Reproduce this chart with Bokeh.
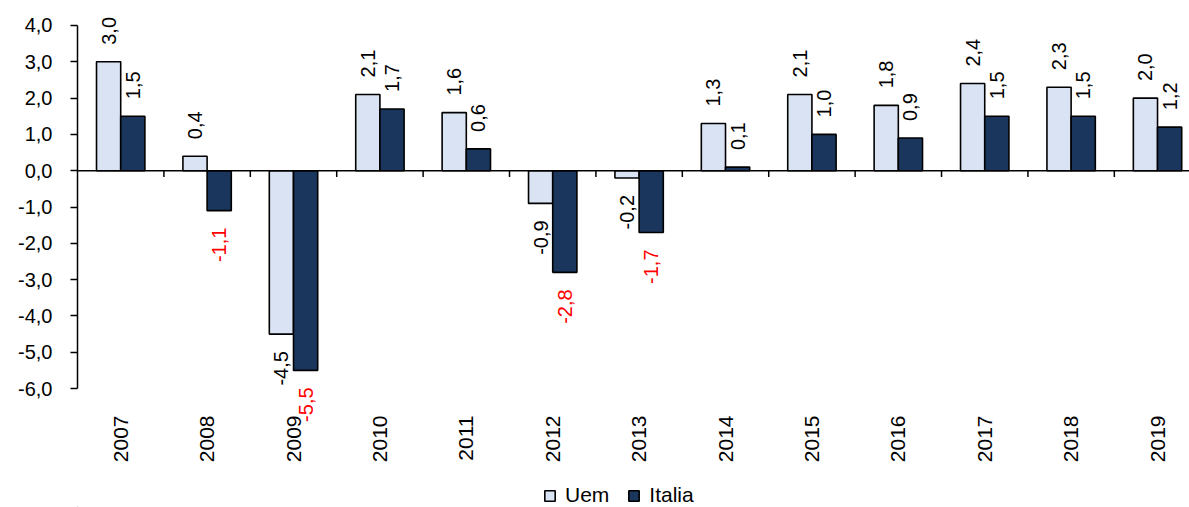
import math
from bokeh.plotting import figure
from bokeh.layouts import column
from bokeh.core.properties import value
from bokeh.models import (Range1d, FixedTicker, CustomJSTickFormatter, ColumnDataSource,
                          LabelSet, Span, Legend, LegendItem)
from bokeh.embed import file_html
from bokeh.resources import INLINE
from bokeh.transform import dodge

years = ["2007", "2008", "2009", "2010", "2011", "2012", "2013",
         "2014", "2015", "2016", "2017", "2018", "2019"]
uem = [3.0, 0.4, -4.5, 2.1, 1.6, -0.9, -0.2, 1.3, 2.1, 1.8, 2.4, 2.3, 2.0]
italia = [1.5, -1.1, -5.5, 1.7, 0.6, -2.8, -1.7, 0.1, 1.0, 0.9, 1.5, 1.5, 1.2]
y_ticks = [-6, -5, -4, -3, -2, -1, 0, 1, 2, 3, 4]
series_names = ["Uem", "Italia"]

UEM_COLOR = "#dae3f3"
ITA_COLOR = "#1b365d"
FONT = "Liberation Sans"

pos = [i + 0.5 for i in range(len(years))]
fmt = lambda v: f"{v:.1f}".replace(".", ",")

src = ColumnDataSource(dict(x=pos, uem=uem, italia=italia, year=years))

p = figure(width=1189, height=465, output_backend="svg", toolbar_location=None,
           x_range=Range1d(0, 12.87), y_range=Range1d(-7.1, 4.55),
           min_border_left=77, min_border_right=0, min_border_top=5, min_border_bottom=0)
p.outline_line_color = None
p.xgrid.visible = False
p.ygrid.visible = False
p.background_fill_color = "white"
p.border_fill_color = "white"

BW = 0.28
r1 = p.vbar(x=dodge("x", -BW / 2), top="uem", bottom=0, width=BW, source=src,
            fill_color=UEM_COLOR, line_color="black", line_width=1.6)
r2 = p.vbar(x=dodge("x", BW / 2), top="italia", bottom=0, width=BW, source=src,
            fill_color=ITA_COLOR, line_color="black", line_width=1.6)

# zero line + boundary ticks
p.add_layout(Span(location=0, dimension="width", line_color="black", line_width=1.5))
bx = [float(i) for i in range(1, len(years))]
p.segment(x0=bx, y0=[0] * len(bx), x1=bx, y1=[-0.17] * len(bx), line_color="black", line_width=1.5)

# value labels
def add_labels(vals, off, neg_color):
    pv = [(x + off, v) for x, v in zip(pos, vals) if v >= 0]
    nv = [(x + off, v) for x, v in zip(pos, vals) if v < 0]
    if pv:
        s = ColumnDataSource(dict(x=[a for a, _ in pv], y=[b for _, b in pv], t=[fmt(b) for _, b in pv]))
        p.add_layout(LabelSet(x="x", y="y", text="t", source=s, angle=math.pi / 2,
                              text_align="left", text_baseline="middle", y_offset=17,
                              text_font=value(FONT), text_font_size="20px", text_color="black"))
    if nv:
        s = ColumnDataSource(dict(x=[a for a, _ in nv], y=[b for _, b in nv], t=[fmt(b) for _, b in nv]))
        p.add_layout(LabelSet(x="x", y="y", text="t", source=s, angle=math.pi / 2,
                              text_align="right", text_baseline="middle", y_offset=-17,
                              text_font=value(FONT), text_font_size="20px", text_color=neg_color))

add_labels(uem, -BW / 2, "black")
add_labels(italia, BW / 2, "#ff0000")

# y axis
ya = p.yaxis[0]
ya.ticker = FixedTicker(ticks=y_ticks)
ya.formatter = CustomJSTickFormatter(code="return tick.toFixed(1).replace('.', ',');")
ya.bounds = (-6, 4)
ya.axis_line_color = "black"
ya.axis_line_width = 1.5
ya.major_tick_line_color = "black"
ya.major_tick_line_width = 1.5
ya.major_tick_out = 7
ya.major_tick_in = 0
ya.minor_tick_line_color = None
ya.major_label_standoff = 18
ya.major_label_text_font = FONT
ya.major_label_text_font_size = "20px"
ya.major_label_text_color = "black"

# x axis (labels only)
xa = p.xaxis[0]
xa.ticker = FixedTicker(ticks=pos)
xa.formatter = CustomJSTickFormatter(args=dict(years=years), code="return years[Math.floor(tick)];")
xa.axis_line_color = None
xa.major_tick_line_color = None
xa.minor_tick_line_color = None
xa.major_label_orientation = math.pi / 2
xa.major_label_standoff = -19
xa.major_label_text_font = FONT
xa.major_label_text_font_size = "21px"
xa.major_label_text_color = "black"

# legend strip
lg = figure(width=1189, height=42, output_backend="svg", toolbar_location=None,
            x_range=Range1d(0, 1), y_range=Range1d(0, 1),
            x_axis_location=None, y_axis_location=None,
            min_border_left=0, min_border_right=0, min_border_top=0, min_border_bottom=0)
lg.xgrid.visible = False
lg.ygrid.visible = False
lg.outline_line_color = None
dummy = ColumnDataSource(dict(x=[-5.0], top=[-5.0], bottom=[-6.0]))
l1 = lg.vbar(x="x", top="top", bottom="bottom", width=0.1, source=dummy,
             fill_color=UEM_COLOR, line_color="black", line_width=1.6)
l2 = lg.vbar(x="x", top="top", bottom="bottom", width=0.1, source=dummy,
             fill_color=ITA_COLOR, line_color="black", line_width=1.6)
legend = Legend(items=[LegendItem(label=series_names[0], renderers=[l1]),
                       LegendItem(label=series_names[1], renderers=[l2])],
                orientation="horizontal", location=(466, 0),
                border_line_color=None, background_fill_alpha=0,
                label_text_font=FONT, label_text_font_size="21px", label_text_color="black",
                glyph_width=13, glyph_height=13, label_standoff=9, spacing=18,
                padding=0, margin=0)
lg.add_layout(legend)

open("out.html", "w").write(file_html(column(p, lg, spacing=0), INLINE))
